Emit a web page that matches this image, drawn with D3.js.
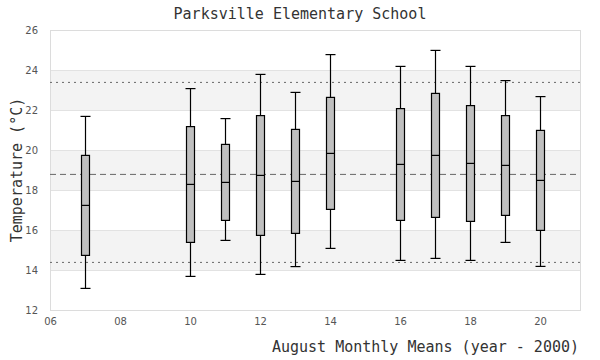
<!DOCTYPE html>
<html>
<head>
<meta charset="utf-8">
<script src="https://cdn.jsdelivr.net/npm/d3@7"></script>
<style>
  body { margin: 0; background: #fff; }
  .tick text { font-family: "DejaVu Sans", sans-serif; }
</style>
</head>
<body>
<div class="chart"></div>
<script>
// data
const years   = [7, 10, 11, 12, 13, 14, 16, 17, 18, 19, 20];
const whiskLo = [13.08, 13.68, 15.48, 13.78, 14.17, 15.08, 14.48, 14.58, 14.48, 15.38, 14.18];
const q1      = [14.73, 15.38, 16.48, 15.73, 15.83, 17.03, 16.48, 16.63, 16.43, 16.73, 15.98];
const median  = [17.23, 18.28, 18.38, 18.73, 18.43, 19.83, 19.28, 19.73, 19.33, 19.23, 18.48];
const q3      = [19.73, 21.17, 20.28, 21.72, 21.03, 22.63, 22.07, 22.83, 22.22, 21.72, 20.98];
const whiskHi = [21.68, 23.07, 21.57, 23.78, 22.88, 24.77, 24.18, 24.98, 24.18, 23.47, 22.67];

const meanLine = 18.78;
const limitLines = [23.38, 14.38];

const xTicks = [6, 8, 10, 12, 14, 16, 18, 20];
const yTicks = [12, 14, 16, 18, 20, 22, 24, 26];

let svgWidth = 600;
let svgHeight = 360;
const margin = {top: 30, right: 20, bottom: 50, left: 50};
let chartWidth = svgWidth - margin.left - margin.right;
let chartHeight = svgHeight - margin.top - margin.bottom;

let svg = d3.select(".chart")
  .append("svg")
  .attr("width", svgWidth)
  .attr("height", svgHeight);

let chart = svg.append("g")
  .attr("transform", `translate(${margin.left},${margin.top})`);

let x = d3.scaleLinear().domain([6, 6 + chartWidth / 35]).range([0, chartWidth]);
let y = d3.scaleLinear().domain([12, 26]).range([chartHeight, 0]);

// alternating bands
for (let i = 0; i < yTicks.length - 1; i++) {
  if (i % 2 === 1) {
    chart.append("rect")
      .attr("x", 0)
      .attr("width", chartWidth)
      .attr("y", y(yTicks[i + 1]))
      .attr("height", y(yTicks[i]) - y(yTicks[i + 1]))
      .attr("fill", "#f3f3f3");
  }
}

// gridlines
chart.selectAll("line.grid")
  .data(yTicks)
  .enter().append("line")
  .attr("class", "grid")
  .attr("x1", 0).attr("x2", chartWidth)
  .attr("y1", d => y(d) + 0.5).attr("y2", d => y(d) + 0.5)
  .attr("stroke", "#e2e2e2");

chart.append("rect")
  .attr("x", 0.5).attr("y", 0.5)
  .attr("width", chartWidth).attr("height", chartHeight)
  .attr("fill", "none")
  .attr("stroke", "#dcdcdc");

// reference lines
chart.append("line")
  .attr("x1", 0).attr("x2", chartWidth)
  .attr("y1", y(meanLine)).attr("y2", y(meanLine))
  .attr("stroke", "#666").attr("stroke-dasharray", "6,4");

chart.selectAll("line.limit")
  .data(limitLines)
  .enter().append("line")
  .attr("class", "limit")
  .attr("x1", 0).attr("x2", chartWidth)
  .attr("y1", d => y(d)).attr("y2", d => y(d))
  .attr("stroke", "#666").attr("stroke-dasharray", "2,4");

// boxes
const bw = 8, cap = 5;
let boxes = chart.selectAll("g.box")
  .data(years.map((yr, i) => ({yr, lo: whiskLo[i], q1: q1[i], med: median[i], q3: q3[i], hi: whiskHi[i]})))
  .enter().append("g")
  .attr("class", "box")
  .attr("transform", d => `translate(${Math.round(x(d.yr)) + 0.5},0)`);

boxes.append("line")
  .attr("y1", d => y(d.hi)).attr("y2", d => y(d.lo))
  .attr("stroke", "#000").attr("stroke-width", 1.2);
boxes.append("line")
  .attr("x1", -cap).attr("x2", cap)
  .attr("y1", d => y(d.hi)).attr("y2", d => y(d.hi))
  .attr("stroke", "#000").attr("stroke-width", 1.2);
boxes.append("line")
  .attr("x1", -cap).attr("x2", cap)
  .attr("y1", d => y(d.lo)).attr("y2", d => y(d.lo))
  .attr("stroke", "#000").attr("stroke-width", 1.2);
boxes.append("rect")
  .attr("x", -bw / 2).attr("width", bw)
  .attr("y", d => y(d.q3)).attr("height", d => y(d.q1) - y(d.q3))
  .attr("fill", "#bfbfbf").attr("stroke", "#000").attr("stroke-width", 1.2);
boxes.append("line")
  .attr("x1", -bw / 2).attr("x2", bw / 2)
  .attr("y1", d => y(d.med)).attr("y2", d => y(d.med))
  .attr("stroke", "#000").attr("stroke-width", 1.2);

// axes
let leftAxis = d3.axisLeft(y).tickValues(yTicks).tickSize(0).tickPadding(12);
let bottomAxis = d3.axisBottom(x).tickValues(xTicks).tickSize(0).tickPadding(8)
  .tickFormat(d => d3.format("02d")(d));

let ya = chart.append("g").call(leftAxis);
let xa = chart.append("g").attr("transform", `translate(0,${chartHeight})`).call(bottomAxis);
[ya, xa].forEach(a => {
  a.select(".domain").remove();
  a.selectAll("text").attr("fill", "#555").style("font-size", "10px");
});

// titles
const titleFont = "'DejaVu Sans Mono', monospace";
svg.append("text")
  .attr("x", 300).attr("y", 19)
  .attr("text-anchor", "middle")
  .style("font-family", titleFont)
  .style("font-size", "15px")
  .attr("fill", "#333")
  .text("Parksville Elementary School");

svg.append("text")
  .attr("x", 579).attr("y", 352)
  .attr("text-anchor", "end")
  .style("font-family", titleFont)
  .style("font-size", "15px")
  .attr("fill", "#333")
  .text("August Monthly Means (year - 2000)");

svg.append("text")
  .attr("transform", `translate(22,${margin.top + chartHeight / 2}) rotate(-90)`)
  .attr("text-anchor", "middle")
  .style("font-family", titleFont)
  .style("font-size", "15px")
  .attr("fill", "#333")
  .text("Temperature (°C)");
</script>
</body>
</html>
